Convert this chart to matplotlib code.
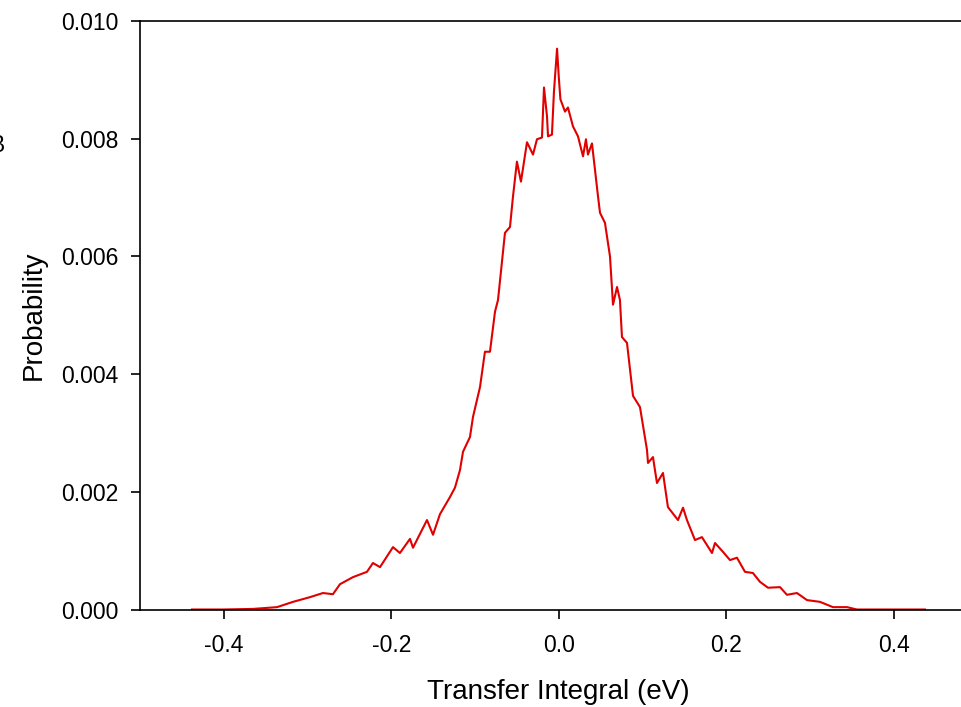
import matplotlib
matplotlib.use("Agg")
import matplotlib.pyplot as plt

plt.rcParams['font.family'] = ['Liberation Sans', 'DejaVu Sans']

# transfer integral (eV) and probability
transfer = [-0.4379, -0.4009, -0.3651, -0.3364, -0.3173, -0.2970, -0.2815, -0.2696,
            -0.2612, -0.2457, -0.2290, -0.2218, -0.2134, -0.1979, -0.1896, -0.1776,
            -0.1740, -0.1573, -0.1501, -0.1418, -0.1299, -0.1239, -0.1179, -0.1143,
            -0.1060, -0.1024, -0.0940, -0.0881, -0.0821, -0.0761, -0.0725, -0.0642,
            -0.0582, -0.0546, -0.0499, -0.0451, -0.0379, -0.0307, -0.0260, -0.0200,
            -0.0176, -0.0140, -0.0128, -0.0081, -0.0057, -0.0020, 0.0000, 0.0020,
            0.0075, 0.0110, 0.0170, 0.0230, 0.0290, 0.0325, 0.0349, 0.0397,
            0.0433, 0.0469, 0.0493, 0.0552, 0.0612, 0.0648, 0.0696, 0.0731,
            0.0755, 0.0815, 0.0887, 0.0970, 0.1054, 0.1066, 0.1125, 0.1173,
            0.1245, 0.1304, 0.1424, 0.1484, 0.1531, 0.1627, 0.1710, 0.1830,
            0.1866, 0.1961, 0.2045, 0.2128, 0.2224, 0.2319, 0.2403, 0.2499,
            0.2642, 0.2725, 0.2845, 0.2964, 0.3119, 0.3275, 0.3442, 0.3561,
            0.4373]
prob = [0.0, 0.0, 0.01, 0.04, 0.13, 0.21, 0.28, 0.26,
        0.43, 0.55, 0.64, 0.79, 0.72, 1.06, 0.96, 1.20,
        1.05, 1.52, 1.27, 1.62, 1.91, 2.07, 2.37, 2.68,
        2.93, 3.27, 3.78, 4.38, 4.38, 5.06, 5.26, 6.40,
        6.50, 7.02, 7.61, 7.27, 7.94, 7.73, 7.99, 8.02,
        8.87, 8.38, 8.04, 8.07, 8.80, 9.53, 9.06, 8.67,
        8.46, 8.53, 8.21, 8.04, 7.70, 7.99, 7.73, 7.92,
        7.47, 7.02, 6.74, 6.57, 6.00, 5.18, 5.48, 5.26,
        4.63, 4.53, 3.63, 3.44, 2.71, 2.49, 2.59, 2.15,
        2.32, 1.74, 1.52, 1.73, 1.52, 1.18, 1.23, 0.96,
        1.13, 0.98, 0.84, 0.88, 0.64, 0.62, 0.47, 0.37,
        0.38, 0.25, 0.28, 0.16, 0.13, 0.04, 0.04, 0.0,
        0.0]
prob = [p / 1000 for p in prob]

x_ticks = [-0.4, -0.2, 0.0, 0.2, 0.4]
y_ticks = [0.000, 0.002, 0.004, 0.006, 0.008, 0.010]

fig = plt.figure(figsize=(9.62, 7.07), dpi=100)
# the right side of the plot frame runs past the image edge, as in the original
ax = fig.add_axes([0.1455, 0.1379, 0.8706, 0.8324])

ax.plot(transfer, prob, color='#e00000', lw=1.5)

ax.set_xlim(-0.5, 0.5)
ax.set_ylim(0, 0.010)
ax.set_xticks(x_ticks)
ax.set_xticklabels([f"{v:.1f}" for v in x_ticks])
ax.set_yticks(y_ticks)
ax.set_yticklabels([f"{v:.3f}" for v in y_ticks])

for s in ax.spines.values():
    s.set_linewidth(1.2)
ax.tick_params(direction='out', length=6.5, width=1.2, labelsize=16.5)
ax.tick_params(axis='y', pad=9)
ax.tick_params(axis='x', pad=11)

ax.set_xlabel("Transfer Integral (eV)", fontsize=20, labelpad=16)
ax.set_ylabel("Probability", fontsize=20, labelpad=10)

# partly cropped panel letter at the left edge
fig.text(4 / 962, 1 - 145 / 707, "B", fontsize=16.5, ha='right', va='center')

fig.savefig("out.png", dpi=100)
